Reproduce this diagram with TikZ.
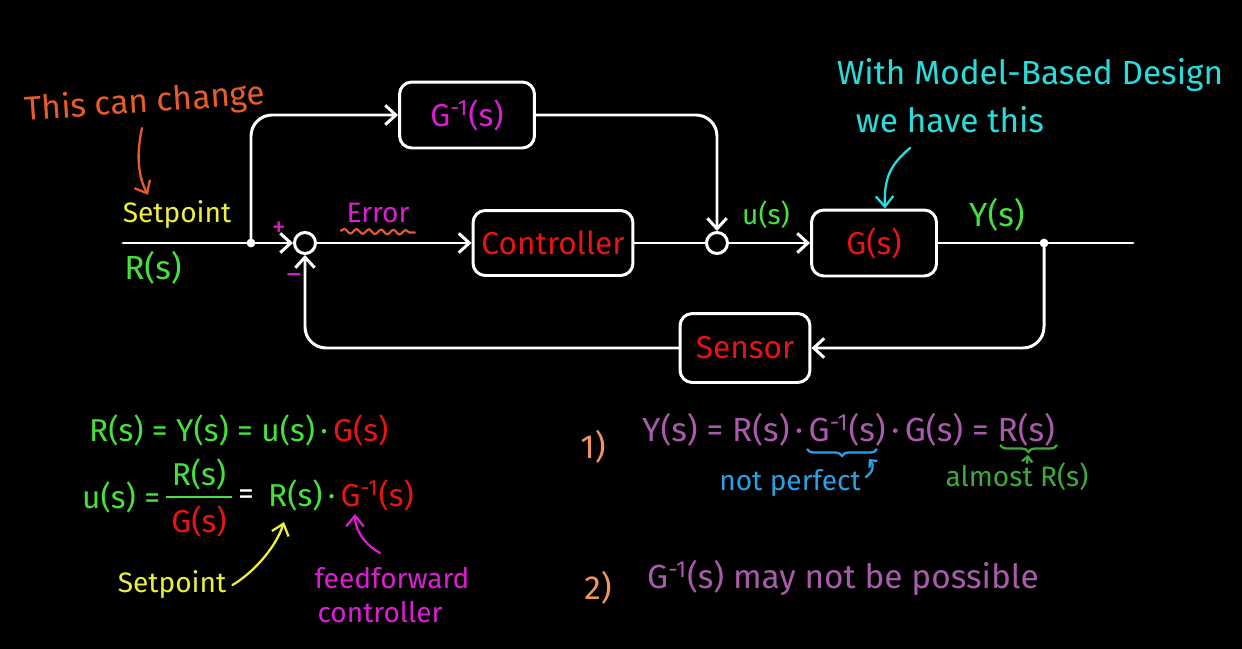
\documentclass[tikz,border=0pt]{standalone}
\usepackage{fontspec}
\setmainfont{Fira Sans}
\usetikzlibrary{arrows.meta,decorations.pathmorphing,decorations.pathreplacing}
\definecolor{chorange}{RGB}{232,92,42}
\definecolor{chpeach}{RGB}{240,150,90}
\definecolor{chyellow}{RGB}{238,238,60}
\definecolor{chgreen}{RGB}{70,225,60}
\definecolor{chdkgreen}{RGB}{60,170,60}
\definecolor{chmagenta}{RGB}{220,30,210}
\definecolor{chred}{RGB}{232,20,20}
\definecolor{chcyan}{RGB}{40,220,220}
\definecolor{chpurple}{RGB}{170,90,170}
\definecolor{chblue}{RGB}{40,160,230}
\newcommand{\ginvtxt}{G\textsuperscript{-1}(s)}
\begin{document}
\begin{tikzpicture}[x=0.02cm,y=-0.02cm]
\tikzset{
  wire/.style={draw=white, line width=1.7pt, line cap=round, rounded corners=12pt},
  sig/.style={wire, -{Straight Barb[length=6pt,width=11pt]}},
  note/.style={line width=1.3pt, line cap=round, -{Straight Barb[length=6pt,width=10pt]}},
  block/.style={draw=white, line width=1.7pt, rounded corners=7pt, text=chred, font=\fontsize{18}{21}\selectfont},
  junc/.style={circle, draw=white, line width=1.7pt, minimum size=0.42cm, inner sep=0pt},
  tapdot/.style={circle, fill=white, minimum size=5pt, inner sep=0pt},
  big/.style={font=\fontsize{19}{22}\selectfont},
  eqn/.style={font=\fontsize{18}{21}\selectfont},
  mid/.style={font=\fontsize{16}{19}\selectfont},
}
\fill[black] (0,0) rectangle (1242,649);

\node[block, minimum width=2.7cm, minimum height=1.32cm, text=chmagenta] (ginv) at (467,115) {\ginvtxt};
\node[block, minimum width=3.2cm, minimum height=1.3cm] (ctrl) at (553,243) {Controller};
\node[block, minimum width=2.5cm, minimum height=1.32cm] (plant) at (874,243) {G(s)};
\node[block, minimum width=2.6cm, minimum height=1.38cm] (sensor) at (745,348) {Sensor};
\node[junc] (sumA) at (305,243) {};
\node[junc] (sumB) at (717,243) {};
\node[tapdot] (split) at (251,243) {};
\node[tapdot] (tap) at (1044,243) {};
\coordinate (rin) at (123,243);
\coordinate (yout) at (1133,243);

\draw[wire] (rin) -- (split);
\draw[sig] (split) -- (sumA.west);
\draw[sig] (split) |- (ginv.west);
\draw[sig] (ginv.east) -| (sumB.north);
\draw[sig] (sumA.east) -- (ctrl.west);
\draw[wire] (ctrl.east) -- (sumB.west);
\draw[sig] (sumB.east) -- (plant.west);
\draw[wire] (plant.east) -- (tap) -- (yout);
\draw[sig] (tap) |- (sensor.east);
\draw[sig] (sensor.west) -| (sumA.south);

\node[mid, text=chmagenta] (plus) at (279,229) {+};
\node[mid, text=chmagenta] (minus) at (294,279) {–};
\node[mid, text=chyellow] (setp) at (177,215) {Setpoint};
\node[big, text=chgreen] (rs) at (153,268) {R(s)};
\node[mid, text=chmagenta] (err) at (378,213) {Error};
\draw[chorange, line width=1.2pt, decorate, decoration={snake, segment length=7pt, amplitude=1.3pt}] (err.south west) ++(0,2) coordinate (ea) -- ([yshift=-2pt]err.south east);
\node[mid, text=chgreen] (us) at (766,215) {u(s)};
\node[big, text=chgreen] (ys) at (997,215) {Y(s)};

\node[big, text=chorange, rotate=4] (chg) at (145,103) {This can change};
\draw[note, chorange] (142,128) .. controls (135,160) and (140,180) .. (setp.north -| 148,0);

\node[big, text=chcyan] (mbd) at (1030,75) {With Model-Based Design};
\node[big, text=chcyan] (have) at (950,120) {we have this};
\draw[note, chcyan] (910,148) .. controls (890,165) and (884,178) .. (plant.north -| 885,0);

\node[eqn, text=chgreen, anchor=west] (eqa) at (83,430) {R(s) = Y(s) = u(s)\,·\,\textcolor{chred}{G(s)}};
\node[eqn, text=chgreen, anchor=west] (eqb) at (76,497) {u(s) =};
\node[eqn, text=chgreen] (fnum) at (199,474) {R(s)};
\node[eqn, text=chred] (fden) at (199,521) {G(s)};
\coordinate (fl) at (166,497);
\coordinate (fr) at (232,497);
\draw[chgreen, line width=1.3pt] (fl) -- (fr);
\node[eqn, text=white] (eqc) at (246,497) {=};
\node[eqn, text=chgreen, anchor=west] (eqd) at (262,495) {R(s)\,·\,\textcolor{chred}{\ginvtxt}};
\node[mid, text=chyellow] (setp2) at (172,585) {Setpoint};
\draw[note, chyellow] (setp2.east) .. controls (250,575) and (275,550) .. (284,522);
\node[mid, text=chmagenta] (ff) at (392,578) {feedforward};
\node[mid, text=chmagenta] (ffc) at (380,612) {controller};
\draw[note, chmagenta] (380,553) .. controls (365,545) and (355,530) .. (355,514);

\node[big, text=chpeach] (one) at (593,447) {1)};
\node[big, text=chpurple, anchor=west] (eqe) at (636,430) {Y(s) = R(s)\,·\,\ginvtxt\,·\,G(s) = R(s)};
\draw[chblue, line width=1.3pt, decorate, decoration={brace, mirror, amplitude=4pt}] (807,449) -- (877,449);
\node[mid, text=chblue] (np) at (790,483) {not perfect};
\draw[note, chblue, -{Straight Barb[length=3pt,width=6pt]}] (866,477) .. controls (874,471) and (874,465) .. (869,459);
\draw[chdkgreen, line width=1.3pt, decorate, decoration={brace, mirror, amplitude=4pt}] (1000,445) -- (1057,445);
\node[mid, text=chdkgreen] (alm) at (1017,477) {almost R(s)};
\draw[note, chdkgreen, -{Straight Barb[length=3pt,width=6pt]}] (1027,463) -- (1028,455);

\node[big, text=chpeach] (two) at (598,588) {2)};
\node[big, text=chpurple, anchor=west] (eqf) at (641,578) {\ginvtxt\ may not be possible};
\end{tikzpicture}
\end{document}
